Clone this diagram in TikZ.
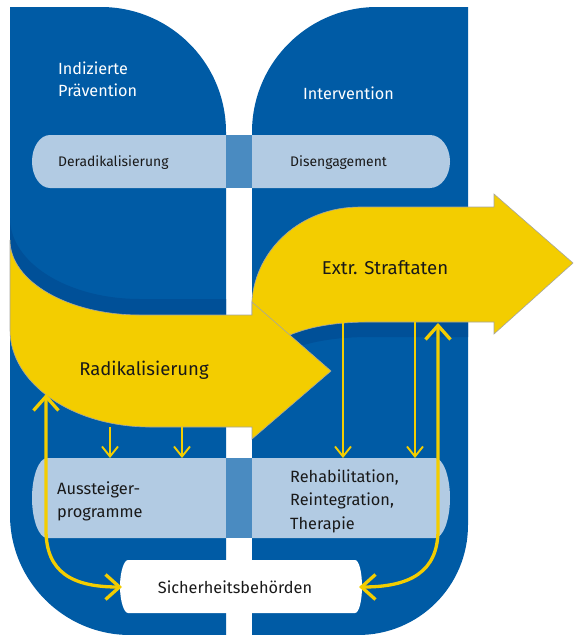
\documentclass[tikz,border=0pt]{standalone}
\usepackage{fontspec}
\setmainfont{Fira Sans}
\usetikzlibrary{arrows.meta}
\definecolor{bblue}{RGB}{0,91,165}
\definecolor{bshadow}{RGB}{0,80,152}
\definecolor{blight}{RGB}{178,203,227}
\definecolor{bmid}{RGB}{74,139,193}
\definecolor{byellow}{RGB}{243,205,0}
\definecolor{txt}{RGB}{25,25,25}
\definecolor{edge}{RGB}{165,165,160}
\tikzset{
  leftblue/.style={insert path={(10,7) -- (101,7) .. controls (170,7) and (226,63) .. (226,132) -- (226,635) -- (130,635) .. controls (64,635) and (10,581) .. (10,515) -- cycle}},
  rightblue/.style={insert path={(252,132) .. controls (252,63) and (308,7) .. (377,7) -- (468,7) -- (468,525) .. controls (468,586) and (419,635) .. (358,635) -- (252,635) -- cycle}},
  radikpath/.style={insert path={(10,240) -- (10,330) .. controls (10,383.5) and (72.7,427) .. (150,427) -- (252,427) -- (252,439) -- (331,371) -- (252,302) -- (252,315) -- (140,315) .. controls (68.2,315) and (10,281.4) .. (10,240) -- cycle}},
  extrpath/.style={insert path={(252,300) .. controls (256,250) and (300,207) .. (360,207) -- (494,207) -- (494,194) -- (573,263) -- (494,334) -- (494,322) -- (370,322) .. controls (320,322) and (285,332) .. (262,352) -- (252,352) -- cycle}},
  yellowshape/.style={fill=byellow, draw=edge, line width=0.6pt},
  lbl/.style={text=txt, inner sep=0pt, align=left},
  headtxt/.style={text=white, inner sep=0pt, align=left, font=\fontsize{16.2}{22}\selectfont},
  thin arrow/.style={draw=byellow, line width=1.9pt, -{Straight Barb[length=10pt,width=16pt]}},
  thick arrow/.style={draw=byellow, line width=3.3pt, {Straight Barb[length=14pt,width=25pt]}-{Straight Barb[length=14pt,width=25pt]}}
}
\begin{document}
\begin{tikzpicture}[x=1pt,y=-1pt]
\useasboundingbox (0,0) rectangle (579,635);
\fill[white] (0,0) rectangle (579,635);
% blue halves
\fill[bblue, leftblue];
\fill[bblue, rightblue];
% top pills
\fill[blight] (226,135) -- (50,135) .. controls (40,135) and (32,147) .. (32,161.5) .. controls (32,176) and (40,188) .. (50,188) -- (226,188) -- cycle;
\fill[blight] (252,135) -- (430,135) .. controls (441,135) and (450,147) .. (450,161.5) .. controls (450,176) and (441,188) .. (430,188) -- (252,188) -- cycle;
\fill[bmid] (226,135) rectangle (252,188);
% bottom pills
\fill[blight] (226,458) -- (47,458) .. controls (39,458) and (32,476) .. (32,498) .. controls (32,520) and (39,538) .. (47,538) -- (226,538) -- cycle;
\fill[blight] (252,458) -- (435,458) .. controls (443,458) and (450,476) .. (450,498) .. controls (450,520) and (443,538) .. (435,538) -- (252,538) -- cycle;
\fill[bmid] (226,458) rectangle (252,538);
% white pill
\fill[white] (128,560) -- (355,560) .. controls (359,560) and (362,572) .. (362,586.5) .. controls (362,601) and (359,613) .. (355,613) -- (128,613) .. controls (124,613) and (120,601) .. (120,586.5) .. controls (120,572) and (124,560) .. (128,560) -- cycle;
% shadows
\begin{scope}
  \clip[rightblue];
  \fill[bshadow] (252,300) -- (252,366) -- (262,366) .. controls (285,347) and (320,337) .. (370,337) -- (480,337) -- (480,300) -- cycle;
\end{scope}
\begin{scope}
  \clip[leftblue];
  \fill[bshadow] (0,218) -- (10,218) .. controls (10,263) and (68,299) .. (140,299) -- (240,299) -- (240,340) -- (0,340) -- cycle;
\end{scope}
% yellow arrows
\filldraw[yellowshape, extrpath];
\filldraw[yellowshape, radikpath];
% coordinates for connectors
\coordinate (rb1) at (110,427);
\coordinate (rb2) at (182,427);
\coordinate (eb1) at (343,322);
\coordinate (eb2) at (415,322);
\coordinate (ap1) at (110,458);
\coordinate (ap2) at (182,458);
\coordinate (rp1) at (343,458);
\coordinate (rp2) at (415,458);
\coordinate (radtip) at (46,394);
\coordinate (extrtip) at (438,323);
\coordinate (sbl) at (122,587);
\coordinate (sbr) at (359,587);
% thin arrows
\draw[thin arrow] (rb1) -- (ap1);
\draw[thin arrow] (rb2) -- (ap2);
\draw[thin arrow] (eb1) -- (rp1);
\draw[thin arrow] (eb2) -- (rp2);
% thick double arrows
\draw[thick arrow] (radtip) -- (46,530) .. controls (46,572) and (72,587) .. (sbl);
\draw[thick arrow] (extrtip) -- (438,530) .. controls (438,572) and (410,587) .. (sbr);
% texts
\node[headtxt, anchor=west] (ip) at (58,79) {Indizierte\\Prävention};
\node[headtxt, anchor=west] (iv) at (303,93) {Intervention};
\node[lbl, anchor=west, font=\fontsize{13.9}{16}\selectfont] (der) at (58,163) {Deradikalisierung};
\node[lbl, anchor=west, font=\fontsize{13.9}{16}\selectfont] (dis) at (290,163) {Disengagement};
\node[lbl, anchor=center, font=\fontsize{18.5}{22}\selectfont] (rad) at (144,370) {Radikalisierung};
\node[lbl, anchor=center, font=\fontsize{18.6}{22}\selectfont] (ext) at (385,268) {Extr. Straftaten};
\node[lbl, anchor=west, font=\fontsize{16.4}{23}\selectfont] (aus) at (57,501) {Aussteiger-\\programme};
\node[lbl, anchor=west, font=\fontsize{16.3}{23.5}\selectfont] (reh) at (290,501) {Rehabilitation,\\Reintegration,\\Therapie};
\node[lbl, anchor=center, font=\fontsize{16.3}{20}\selectfont] (sb) at (235,587) {Sicherheitsbehörden};
\end{tikzpicture}
\end{document}
